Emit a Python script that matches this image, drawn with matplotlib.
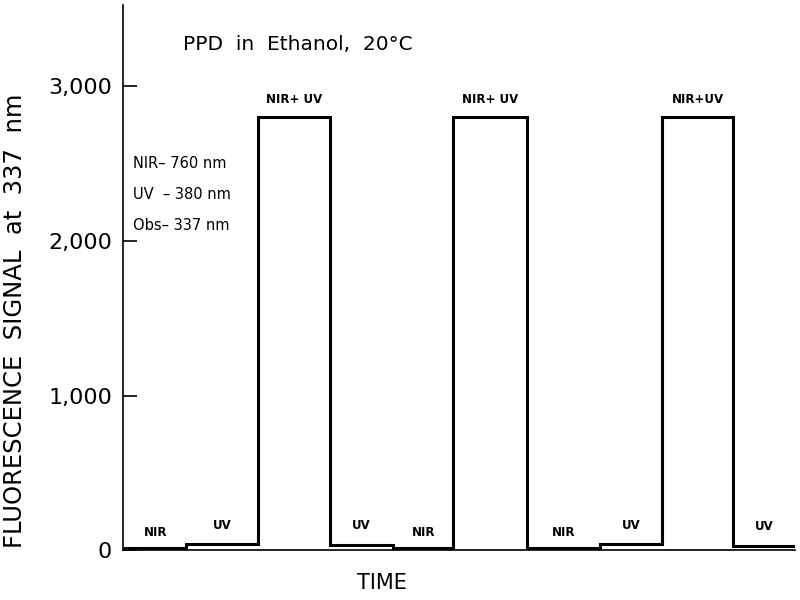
import matplotlib as mpl

mpl.use("Agg")
import matplotlib.pyplot as plt
import numpy as np

# excitation periods (arbitrary time units) and the signal level in each
edges = [0.3, 10.5, 22.5, 34.5, 45.0, 55.0, 67.3, 79.5, 89.8, 101.7, 112.0]
levels = [15, 40, 2800, 35, 15, 2800, 15, 40, 2800, 30]
labels = ["NIR", "UV", "NIR+ UV", "UV", "NIR", "NIR+ UV", "NIR", "UV", "NIR+UV", "UV"]

yticks = [0, 1000, 2000, 3000]
yticklabels = ["0", "1,000", "2,000", "3,000"]
legend_lines = ["NIR\u2013 760 nm", "UV  \u2013 380 nm", "Obs\u2013 337 nm"]

plt.rcParams["font.family"] = "DejaVu Sans"

fig = plt.figure(figsize=(8, 6), dpi=100)
ax = fig.add_axes([0.154, 0.083, 0.84, 0.909])

# step trace: hold each level across its period
xs = np.repeat(edges, 2)[1:-1]
ys = np.repeat(levels, 2)
ax.plot(xs, ys, color="black", lw=2.2, solid_joinstyle="miter")

for i, lab in enumerate(labels):
    xm = 0.5 * (edges[i] + edges[i + 1])
    if levels[i] > 1000:
        off = 75
    elif lab == "UV":
        off = 80
    else:
        off = 55
    ax.text(xm, levels[i] + off, lab, ha="center", va="bottom",
            fontsize=8.5, fontweight="bold")

for k, line in enumerate(legend_lines):
    ax.text(1.6, 2500 - k * 200, line, ha="left", va="center", fontsize=10.5)

ax.text(0.089, 0.927, "PPD  in  Ethanol,  20\u00b0C", transform=ax.transAxes,
        ha="left", va="center", fontsize=14.5)

ax.set_xlim(0, 112)
ax.set_ylim(0, 3527)
ax.set_xticks([])
ax.set_yticks(yticks)
ax.set_yticklabels(yticklabels, fontsize=16)
ax.tick_params(axis="y", direction="in", length=10, width=1.2, pad=8)
for s in ("top", "right"):
    ax.spines[s].set_visible(False)
ax.spines["left"].set_linewidth(1.2)
ax.spines["bottom"].set_linewidth(1.2)

ax.set_ylabel("FLUORESCENCE  SIGNAL  at  337  nm", fontsize=17.5, va="center")
ax.yaxis.set_label_coords(-0.161, 0.42)
ax.set_xlabel("TIME", fontsize=15, va="center")
ax.xaxis.set_label_coords(0.385, -0.06)

fig.savefig("out.png", dpi=100)
